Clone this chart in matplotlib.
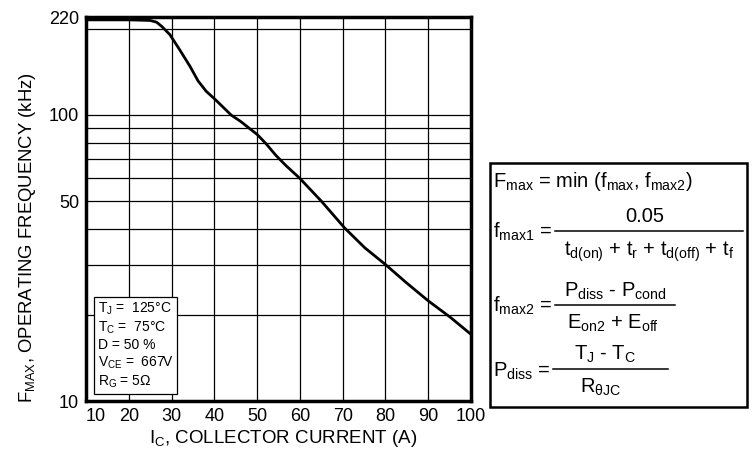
import numpy as np
import matplotlib.pyplot as plt
from matplotlib.lines import Line2D

plt.rcParams['font.family'] = ['Liberation Sans', 'DejaVu Sans']
plt.rcParams['mathtext.fontset'] = 'custom'
plt.rcParams['mathtext.rm'] = 'Liberation Sans'
plt.rcParams['mathtext.it'] = 'Liberation Sans'
plt.rcParams['mathtext.bf'] = 'Liberation Sans:bold'

# curve
ic = [10, 20, 25, 26.5, 27.7, 29.6, 31.9, 34.3, 36.2, 38.1, 40, 41.9, 43.9, 46.2, 48.1,
      50, 52.1, 54.4, 56.8, 60, 65.1, 70.5, 75.2, 80, 84.9, 90, 95.2, 100]
fmax = [215, 215, 214, 211, 204, 191, 169, 148, 131.5, 121, 114, 107, 100, 94.8, 90,
        85.5, 79.3, 72.2, 66.4, 60, 49.8, 40.2, 34.3, 30.0, 25.9, 22.4, 19.6, 17.1]

x_ticks = [10, 20, 30, 40, 50, 60, 70, 80, 90, 100]
y_ticks = [10, 50, 100, 220]
y_grid = [20, 30, 40, 50, 60, 70, 80, 90, 100, 200]

conditions = [r'T$_\mathrm{J}$ =  125°C', r'T$_\mathrm{C}$ =  75°C', 'D = 50 %',
              r'V$_\mathrm{CE}$ =  667V', r'R$_\mathrm{G}$ = 5Ω']

W, H = 755, 451
fig = plt.figure(figsize=(W / 100, H / 100), dpi=100)
ax = fig.add_axes([86 / W, 1 - 401 / H, 385 / W, 384 / H])

ax.set_yscale('log')
ax.set_xlim(10, 100)
ax.set_ylim(10, 220)

for g in y_grid:
    ax.axhline(g, color='black', lw=0.9, zorder=1)
for g in x_ticks[1:-1]:
    ax.axvline(g, color='black', lw=0.9, zorder=1)

ax.plot(ic, fmax, color='black', lw=2, zorder=3, solid_joinstyle='round')

ax.set_xticks(x_ticks)
ax.set_xticklabels([str(t) for t in x_ticks])
ax.set_yticks(y_ticks)
ax.set_yticklabels([str(t) for t in y_ticks])
ax.yaxis.set_minor_locator(plt.NullLocator())
ax.tick_params(axis='both', labelsize=13, length=0, pad=5)
ax.get_xticklabels()[0].set_horizontalalignment('left')

for s in ax.spines.values():
    s.set_linewidth(2.5)

ax.set_xlabel(r'I$_\mathrm{C}$, COLLECTOR CURRENT (A)', fontsize=13.5)
ax.xaxis.set_label_coords(0.512, -0.07)
ax.set_ylabel(r'F$_\mathrm{MAX}$, OPERATING FREQUENCY (kHz)', fontsize=13.3)
ax.yaxis.set_label_coords(-0.125, 0.425)

ax.text(0.03, 0.028, '\n'.join(conditions), transform=ax.transAxes, fontsize=10,
        va='bottom', ha='left', linespacing=1.22, zorder=4,
        bbox=dict(boxstyle='square,pad=0.25', fc='white', ec='black', lw=0.9))

# formula box, positions in pixels from the top left
fig.patches.append(plt.Rectangle((490 / W, 1 - 407 / H), 257 / W, 244 / H,
                                 transform=fig.transFigure, fill=False, ec='black', lw=1.8))
fs = 14.5


def ftext(x, y, s, ha='left'):
    fig.text(x / W, 1 - y / H, s, fontsize=fs, ha=ha, va='baseline')


def fbar(x0, x1, y):
    fig.lines.append(Line2D([x0 / W, x1 / W], [1 - y / H, 1 - y / H],
                            transform=fig.transFigure, color='black', lw=1.1))


ftext(493, 187, r'F$_\mathrm{max}$ = min (f$_\mathrm{max}$, f$_\mathrm{max2}$)')

ftext(493, 238, r'f$_\mathrm{max1}$ =')
fbar(555, 743, 231)
ftext(645, 222, '0.05', ha='center')
ftext(649, 256, r't$_\mathrm{d(on)}$ + t$_\mathrm{r}$ + t$_\mathrm{d(off)}$ + t$_\mathrm{f}$', ha='center')

ftext(493, 312, r'f$_\mathrm{max2}$ =')
fbar(555, 675, 305)
ftext(615, 297, r'P$_\mathrm{diss}$ - P$_\mathrm{cond}$', ha='center')
ftext(613, 329, r'E$_\mathrm{on2}$ + E$_\mathrm{off}$', ha='center')

ftext(493, 377, r'P$_\mathrm{diss}$ =')
fbar(553, 668, 369)
ftext(605, 360, r'T$_\mathrm{J}$ - T$_\mathrm{C}$', ha='center')
ftext(601, 393, r'R$_\mathrm{\theta JC}$', ha='center')

fig.savefig('out.png', dpi=100)
